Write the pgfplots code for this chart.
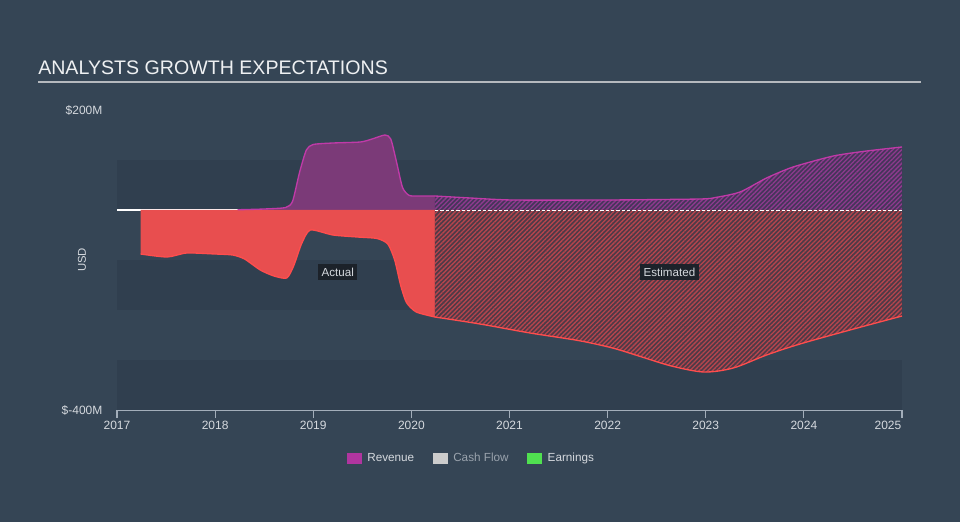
\documentclass[border=0pt]{standalone}
\usepackage{pgfplots}
\pgfplotsset{compat=1.18}
\usepackage{pgfplotstable}
\usepackage{fontspec}
\setmainfont{Liberation Sans}
\usetikzlibrary{patterns.meta}
\definecolor{bg}{HTML}{354555}
\definecolor{band}{HTML}{303F4F}
\definecolor{revfill}{HTML}{7B3A78}
\definecolor{revline}{HTML}{C03AA8}
\definecolor{earnfill}{HTML}{E84E4F}
\definecolor{earnline}{HTML}{FF4D4D}
\definecolor{earnhbase}{HTML}{4E3A47}
\definecolor{earnhline}{HTML}{B5454D}
\definecolor{revhbase}{HTML}{45355A}
\definecolor{revhline}{HTML}{8E3A8E}
\definecolor{axiscol}{HTML}{A3AEBA}
\definecolor{ticktext}{HTML}{D5D9DE}
\definecolor{titletext}{HTML}{EEF0F2}
\definecolor{rulecol}{HTML}{B5B9BE}
\definecolor{boxfill}{HTML}{1C222A}
\definecolor{legrev}{HTML}{B0359F}
\definecolor{legcash}{HTML}{CCCCCC}
\definecolor{legearn}{HTML}{50E050}
\definecolor{cashtext}{HTML}{9AA3AD}

\pgfplotstableread{
x y
2018.23 0.5
2018.5 2
2018.72 5
2018.79 18
2018.86 75
2018.93 120
2019.0 131
2019.2 134
2019.48 136
2019.6 142
2019.73 150
2019.79 142
2019.85 95
2019.91 45
2019.98 29
2020.1 28
2020.24 28
}\revact

\pgfplotstableread{
x y
2020.24 28
2020.6 24
2021.03 20
2022.0 20
2022.94 22
2023.1 25
2023.35 36
2023.62 64
2023.89 86
2024.3 108
2024.64 118
2025.0 126
}\revest

\pgfplotstableread{
x y
2017.24 -88
2017.51 -94
2017.71 -86
2018.0 -88
2018.18 -90
2018.3 -98
2018.46 -120
2018.6 -132
2018.73 -136
2018.8 -112
2018.88 -68
2018.97 -40
2019.2 -50
2019.45 -54
2019.65 -57
2019.76 -68
2019.83 -100
2019.89 -150
2019.95 -185
2020.05 -204
2020.24 -214
}\earnact

\pgfplotstableread{
x y
2020.24 -214
2020.7 -228
2021.21 -246
2021.7 -261
2022.05 -276
2022.35 -294
2022.65 -312
2022.98 -324
2023.28 -316
2023.62 -290
2023.96 -268
2024.47 -240
2025.0 -212
}\earnest

\begin{document}
\begin{tikzpicture}
\fill[bg] (0pt,0pt) rectangle (720pt,391.5pt);
\node[anchor=base west, font=\fontsize{14.7}{16}\selectfont, text=titletext, inner sep=0pt] at (28.5pt,335.25pt) {ANALYSTS GROWTH EXPECTATIONS};
\draw[rulecol, line width=1.1pt] (28.5pt,330pt) -- (690.75pt,330pt);
\node[rotate=90, font=\fontsize{8.5}{10}\selectfont, text=ticktext] at (61.5pt,196.5pt) {USD};

\begin{axis}[
  at={(87.75pt,84pt)}, anchor=south west,
  scale only axis, width=588.75pt, height=225pt,
  xmin=2017, xmax=2025, ymin=-400, ymax=200,
  axis x line*=bottom, axis y line*=left,
  y axis line style={draw=none},
  x axis line style={draw=axiscol, line width=0.8pt, -},
  tick align=outside, major tick length=6pt,
  xtick={2017,2018,2019,2020,2021,2022,2023,2024},
  xticklabels={2017,2018,2019,2020,2021,2022,2023,2024},
  extra x ticks={2025}, extra x tick labels={2025},
  extra x tick style={xticklabel style={anchor=north east, xshift=3pt}},
  xtick style={draw=axiscol, line width=0.8pt},
  ytick={-400,200}, yticklabels={\$-400M,\$200M},
  ytick style={draw=none},
  ticklabel style={font=\fontsize{9}{10}\selectfont, text=ticktext},
  xticklabel style={yshift=1.5pt},
  yticklabel style={xshift=-1.5pt},
  legend style={at={(0.452,-0.162)}, anchor=center, draw=none, fill=none,
    legend columns=3, font=\fontsize{8.8}{10}\selectfont, text=ticktext,
    /tikz/every odd column/.append style={column sep=2pt},
    /tikz/every even column/.append style={column sep=12pt}},
  legend image code/.code={\fill[draw=none,#1] (0pt,-4.1pt) rectangle (11.25pt,4.1pt);},
]
\fill[band] (axis cs:2017,0) rectangle (axis cs:2025,100);
\fill[band] (axis cs:2017,-100) rectangle (axis cs:2025,-200);
\fill[band] (axis cs:2017,-300) rectangle (axis cs:2025,-400);
\draw[white, line width=0.8pt] (axis cs:2017,0) -- (axis cs:2020.24,0);

\addplot[forget plot, draw=none, fill=revfill, smooth, tension=0.4] table {\revact} \closedcycle;
\addplot[forget plot, draw=none, fill=revhbase, smooth, tension=0.4] table {\revest} \closedcycle;
\addplot[forget plot, draw=none, pattern={Lines[angle=45,distance=2.4pt,line width=1pt]}, pattern color=revhline, smooth, tension=0.4] table {\revest} \closedcycle;

\addplot[forget plot, draw=none, fill=earnfill, smooth, tension=0.4] table {\earnact} \closedcycle;
\addplot[forget plot, draw=none, fill=earnhbase, smooth, tension=0.5] table {\earnest} \closedcycle;
\addplot[forget plot, draw=none, pattern={Lines[angle=45,distance=2.4pt,line width=1pt]}, pattern color=earnhline, smooth, tension=0.5] table {\earnest} \closedcycle;

\addplot[forget plot, revline, line width=1pt, smooth, tension=0.4] table {\revact};
\addplot[forget plot, revline, line width=1pt, smooth, tension=0.4] table {\revest};
\addplot[forget plot, earnline, line width=1pt, smooth, tension=0.4] table {\earnact};
\addplot[forget plot, earnline, line width=1pt, smooth, tension=0.5] table {\earnest};

\draw[white, line width=0.6pt, dash pattern=on 2.5pt off 1.5pt] (axis cs:2020.24,0) -- (axis cs:2025,0);

\node[fill=boxfill, text=ticktext, font=\fontsize{8.7}{10}\selectfont, inner xsep=2.5pt, inner ysep=3pt] at (axis cs:2019.25,-124) {Actual};
\node[fill=boxfill, text=ticktext, font=\fontsize{8.7}{10}\selectfont, inner xsep=2.5pt, inner ysep=3pt] at (axis cs:2022.63,-124) {Estimated};

\addlegendimage{fill=legrev}
\addlegendentry{Revenue}
\addlegendimage{fill=legcash}
\addlegendentry{\textcolor{cashtext}{Cash Flow}}
\addlegendimage{fill=legearn}
\addlegendentry{Earnings}
\end{axis}
\pgfresetboundingbox
\useasboundingbox (0pt,0pt) rectangle (720pt,391.5pt);
\end{tikzpicture}
\end{document}
